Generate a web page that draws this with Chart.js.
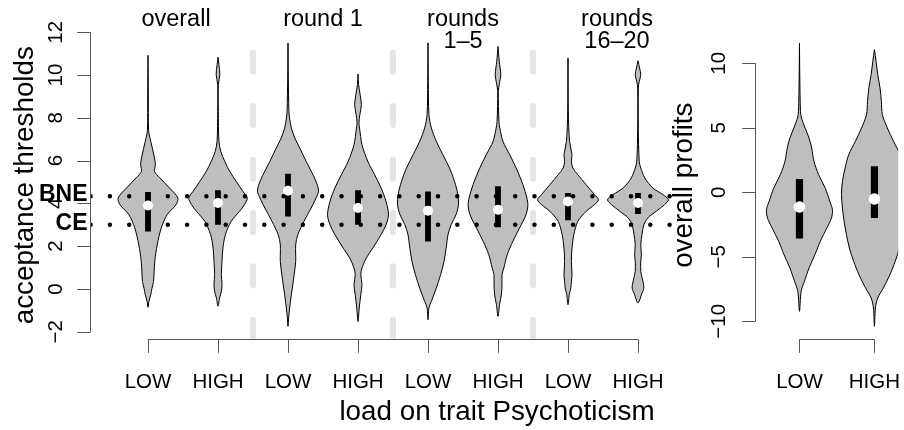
<!DOCTYPE html>
<html>
<head>
<meta charset="utf-8">
<script src="https://cdn.jsdelivr.net/npm/chart.js@4.4.1/dist/chart.umd.min.js"></script>
<style>
  html, body { margin: 0; padding: 0; background: #fff; }
  #wrap { position: relative; width: 904px; height: 430px; overflow: hidden; }
  #wrap canvas { position: absolute; left: 0; top: 0; }
</style>
</head>
<body>
<div id="wrap">
  <canvas id="thresholds" width="904" height="430"></canvas>
  <canvas id="profits" width="904" height="430"></canvas>
</div>
<script>
// ---- data ----
const groupLabels = ['LOW', 'HIGH'];
const periodLabels = [['overall'], ['round 1'], ['rounds', '1–5'], ['rounds', '16–20']];

const thrTicks = [-2, 0, 2, 4, 6, 8, 10, 12];
const thrTickLabels = ['−2', '0', '2', '4', '6', '8', '10', '12'];
const profitTicks = [-10, -5, 0, 5, 10];
const profitTickLabels = ['−10', '−5', '0', '5', '10'];

const refValues = [4.33, 3];
const refLabels = ['BNE', 'CE'];

// violin outlines: [threshold, relative density]
const thrOverallLow = [[10.92,0],[9.1,0.01],[7.4,0.02],[6.9,0.09],[6.2,0.2],[5.8,0.24],[5.5,0.21],[5.2,0.38],[4.72,0.7],[4.25,0.97],[3.94,0.91],[3.47,0.62],[2.85,0.43],[2.07,0.3],[1.29,0.22],[0.35,0.18],[0.04,0.13],[-0.27,0.09],[-0.58,0.03],[-0.86,0]];
const thrOverallHigh = [[10.83,0],[10.48,0.03],[10.02,0.06],[9.55,0.01],[8.3,0.01],[6.9,0.03],[6.43,0.09],[5.96,0.22],[5.5,0.38],[5.03,0.59],[4.56,0.81],[4.25,0.95],[3.94,0.86],[3.63,0.7],[3.16,0.43],[2.54,0.24],[1.91,0.16],[1.29,0.13],[0.67,0.11],[0.2,0.13],[-0.11,0.11],[-0.43,0.05],[-0.81,0]];
const thrRound1Low = [[11.5,0],[9.86,0.01],[8.3,0.03],[7.99,0.05],[7.52,0.11],[7.06,0.22],[6.59,0.38],[5.96,0.59],[5.34,0.81],[4.87,0.95],[4.56,0.99],[4.25,0.91],[3.78,0.75],[3.16,0.52],[2.54,0.32],[2.07,0.25],[1.29,0.25],[0.67,0.2],[0.04,0.14],[-0.58,0.08],[-1.2,0.03],[-1.75,0]];
const thrRound1High = [[10.05,0],[9.55,0.02],[9.08,0.07],[8.61,0.11],[8.15,0.06],[7.76,0.03],[7.52,0.05],[6.74,0.13],[5.96,0.32],[5.34,0.54],[4.72,0.75],[4.09,0.91],[3.47,0.99],[3.0,0.91],[2.54,0.75],[1.91,0.48],[1.45,0.27],[0.98,0.13],[0.67,0.09],[0.2,0.13],[-0.27,0.09],[-0.89,0.04],[-1.52,0]];
const thrFirst5Low = [[11.5,0],[9.7,0.01],[8.15,0.03],[7.52,0.11],[6.9,0.27],[6.28,0.48],[5.65,0.7],[5.03,0.86],[4.41,0.97],[3.94,0.99],[3.47,0.91],[3.0,0.75],[2.54,0.65],[1.91,0.59],[1.29,0.52],[0.67,0.41],[0.04,0.27],[-0.58,0.11],[-0.89,0.03],[-1.44,0]];
const thrFirst5High = [[11.34,0],[10.64,0.04],[10.02,0.09],[9.55,0.04],[9.24,0.01],[7.83,0.03],[7.52,0.06],[6.9,0.16],[6.28,0.38],[5.65,0.59],[5.03,0.77],[4.41,0.91],[3.94,0.97],[3.47,0.91],[2.85,0.7],[2.22,0.48],[1.6,0.3],[0.98,0.19],[0.67,0.13],[0.2,0.13],[-0.27,0.11],[-0.74,0.05],[-1.28,0]];
const thrLast5Low = [[10.8,0],[8.3,0.01],[6.9,0.05],[6.28,0.13],[5.96,0.11],[5.65,0.16],[5.34,0.32],[4.87,0.59],[4.41,0.86],[4.17,0.99],[3.94,0.86],[3.63,0.59],[3.16,0.32],[2.54,0.19],[1.91,0.13],[1.29,0.11],[0.67,0.13],[0.35,0.11],[0.04,0.09],[-0.27,0.04],[-0.74,0]];
const thrLast5High = [[10.67,0],[10.33,0.05],[10.02,0.09],[9.7,0.04],[9.39,0.01],[7.52,0.01],[5.96,0.04],[5.65,0.09],[5.19,0.22],[4.72,0.48],[4.41,0.81],[4.17,0.99],[3.94,0.86],[3.63,0.59],[3.32,0.32],[3.0,0.19],[2.54,0.13],[2.07,0.09],[1.6,0.11],[1.29,0.09],[0.82,0.09],[0.35,0.16],[0.04,0.19],[-0.27,0.11],[-0.58,0.04],[-0.66,0]];

const thrQ1 = [2.69, 3.0, 3.39, 3.0, 2.22, 2.88, 3.21, 3.5];
const thrQ3 = [4.53, 4.61, 5.39, 4.61, 4.56, 4.8, 4.48, 4.48];
const thrMedian = [3.9, 4.02, 4.59, 3.78, 3.66, 3.7, 4.09, 4.02];

// overall profits: [profit, relative density]
const profitLow = [[11.57,0],[8.86,0.01],[6.28,0.03],[5.76,0.06],[4.98,0.17],[4.21,0.29],[3.43,0.37],[2.4,0.44],[1.37,0.58],[0.33,0.78],[-0.7,0.92],[-1.35,1.0],[-1.99,0.97],[-2.77,0.83],[-3.8,0.63],[-4.83,0.47],[-5.87,0.29],[-6.9,0.15],[-7.68,0.05],[-9.23,0]];
const profitHigh = [[11.06,0],[10.15,0.05],[9.12,0.1],[8.09,0.17],[7.05,0.21],[6.02,0.24],[4.99,0.39],[3.95,0.58],[2.92,0.78],[1.88,0.89],[0.85,0.97],[-0.18,1.0],[-1.22,0.97],[-2.25,0.92],[-3.28,0.85],[-4.32,0.76],[-5.35,0.63],[-6.38,0.47],[-7.42,0.27],[-8.19,0.1],[-8.97,0.03],[-10.39,0]];

const profitQ1 = [-3.59, -1.99];
const profitQ3 = [1.03, 2.01];
const profitMedian = [-1.14, -0.52];

// ---- drawing ----
const FONT = '"Liberation Sans", Arial, sans-serif';
const WEX = 0.44;

function violinPoints(at, shape) {
  const left = shape.map(([v, d]) => ({ x: at - d * WEX, y: v }));
  const right = shape.slice(0, -1).reverse().map(([v, d]) => ({ x: at + d * WEX, y: v }));
  return left.concat(right);
}

function violinSets(shapes, q1, q3, med, boxWidth, dotRadius) {
  const sets = shapes.map((s, i) => ({
    data: violinPoints(i + 1, s),
    showLine: true,
    fill: 'shape',
    backgroundColor: '#bebebe',
    borderColor: '#000',
    borderWidth: 1,
    tension: 0.3,
    pointRadius: 0,
    order: 3
  }));
  q1.forEach((lo, i) => sets.push({
    data: [{ x: i + 1, y: lo }, { x: i + 1, y: q3[i] }],
    showLine: true,
    borderColor: '#000',
    borderWidth: boxWidth,
    borderCapStyle: 'butt',
    pointRadius: 0,
    order: 2
  }));
  sets.push({
    data: med.map((m, i) => ({ x: i + 1, y: m })),
    showLine: false,
    pointRadius: dotRadius,
    pointBackgroundColor: '#fff',
    pointBorderWidth: 0,
    order: 1
  });
  return sets;
}

function vText(ctx, text, x, y) {
  ctx.save();
  ctx.translate(x, y);
  ctx.rotate(-Math.PI / 2);
  ctx.fillText(text, 0, 0);
  ctx.restore();
}

// base-R looking axes
const rAxes = {
  id: 'rAxes',
  afterDraw(chart, args, o) {
    const { ctx, chartArea: a, scales: { x, y } } = chart;
    const tick = 13.3;
    ctx.save();
    ctx.strokeStyle = '#555';
    ctx.lineWidth = 1;
    ctx.beginPath();
    const ax = Math.round(a.left) - 0.5;
    ctx.moveTo(ax, y.getPixelForValue(o.yTicks[0]));
    ctx.lineTo(ax, y.getPixelForValue(o.yTicks[o.yTicks.length - 1]));
    o.yTicks.forEach(v => {
      const p = Math.round(y.getPixelForValue(v)) + 0.5;
      ctx.moveTo(ax, p); ctx.lineTo(ax - tick, p);
    });
    const ay = Math.round(a.bottom) + 0.5;
    ctx.moveTo(x.getPixelForValue(o.xTicks[0]), ay);
    ctx.lineTo(x.getPixelForValue(o.xTicks[o.xTicks.length - 1]), ay);
    o.xTicks.forEach(v => {
      const p = Math.round(x.getPixelForValue(v)) + 0.5;
      ctx.moveTo(p, ay); ctx.lineTo(p, ay + tick);
    });
    ctx.stroke();

    ctx.fillStyle = '#000';
    ctx.textAlign = 'center';
    ctx.textBaseline = 'alphabetic';
    ctx.font = '20.5px ' + FONT;
    o.xTicks.forEach((v, i) => ctx.fillText(o.xLabels[i], x.getPixelForValue(v), a.bottom + 49.6));
    o.yTicks.forEach((v, i) => vText(ctx, o.yLabels[i], a.left - o.yLabelGap, y.getPixelForValue(v)));

    ctx.font = '27.8px ' + FONT;
    vText(ctx, o.yTitle, o.yTitleX, (a.top + a.bottom) / 2);
    if (o.xTitle) ctx.fillText(o.xTitle, o.xTitleX, 420);
    if (o.extra) o.extra(chart);
    ctx.restore();
  }
};

const thrYMin = -2.327, thrYMax = 12.026;
const thrShapes = [thrOverallLow, thrOverallHigh, thrRound1Low, thrRound1High,
                   thrFirst5Low, thrFirst5High, thrLast5Low, thrLast5High];
const thrSets = violinSets(thrShapes, thrQ1, thrQ3, thrMedian, 5.8, 5);

[2.5, 4.5, 6.5].forEach(at => thrSets.push({
  data: [{ x: at, y: thrYMin }, { x: at, y: thrYMax }],
  showLine: true,
  borderColor: '#e5e5e5',
  borderWidth: 6,
  borderDash: [19, 34.4],
  borderCapStyle: 'round',
  pointRadius: 0,
  order: 4
}));
refValues.forEach(v => thrSets.push({
  data: [{ x: 0.18, y: v }, { x: 8.5, y: v }],
  showLine: true,
  borderColor: '#000',
  borderWidth: 4.5,
  borderDash: [0, 19.3],
  borderCapStyle: 'round',
  pointRadius: 0,
  order: 0
}));

const titleX = [1.4, 3.5, 5.5, 7.7];

new Chart(document.getElementById('thresholds'), {
  type: 'scatter',
  data: { datasets: thrSets },
  plugins: [rAxes],
  options: {
    responsive: false,
    animation: false,
    events: [],
    layout: { padding: { left: 90.6, top: 31.7, right: 208.6, bottom: 91.3 } },
    scales: {
      x: { type: 'linear', min: 0.18, max: 8.82, display: false },
      y: { type: 'linear', min: thrYMin, max: thrYMax, display: false }
    },
    plugins: {
      legend: { display: false },
      tooltip: { enabled: false },
      rAxes: {
        xTicks: [1, 2, 3, 4, 5, 6, 7, 8],
        xLabels: [0, 1, 2, 3].flatMap(() => groupLabels),
        yTicks: thrTicks,
        yLabels: thrTickLabels,
        yLabelGap: 28.5,
        yTitle: 'acceptance thresholds',
        yTitleX: 33.3,
        xTitle: 'load on trait Psychoticism',
        xTitleX: 497,
        extra(chart) {
          const { ctx, scales: { x, y } } = chart;
          ctx.font = '23.5px ' + FONT;
          ctx.textAlign = 'center';
          periodLabels.forEach((lines, i) => {
            lines.forEach((t, j) => ctx.fillText(t, x.getPixelForValue(titleX[i]), 26 + j * 22.3));
          });
          ctx.font = 'bold 23px ' + FONT;
          ctx.textAlign = 'right';
          refValues.forEach((v, i) => ctx.fillText(refLabels[i], 87.5, y.getPixelForValue(v) + 5));
        }
      }
    }
  }
});

new Chart(document.getElementById('profits'), {
  type: 'scatter',
  data: { datasets: violinSets([profitLow, profitHigh], profitQ1, profitQ3, profitMedian, 7.2, 5.8) },
  plugins: [rAxes],
  options: {
    responsive: false,
    animation: false,
    events: [],
    layout: { padding: { left: 756, top: 31.7, right: 0, bottom: 91.3 } },
    scales: {
      x: { type: 'linear', min: 0.42, max: 2.317, display: false },
      y: { type: 'linear', min: -11.349, max: 12.45, display: false }
    },
    plugins: {
      legend: { display: false },
      tooltip: { enabled: false },
      rAxes: {
        xTicks: [1, 2],
        xLabels: groupLabels,
        yTicks: profitTicks,
        yLabels: profitTickLabels,
        yLabelGap: 31,
        yTitle: 'overall profits',
        yTitleX: 692
      }
    }
  }
});
</script>
</body>
</html>
